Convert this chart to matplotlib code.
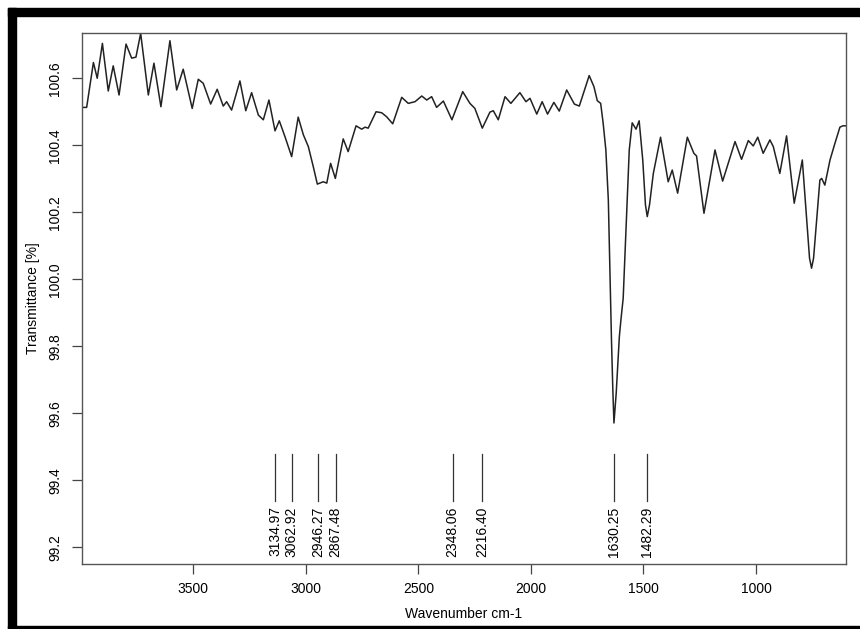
import matplotlib
matplotlib.use("Agg")
import matplotlib.pyplot as plt
from matplotlib.patches import Rectangle

plt.rcParams['font.family'] = ['Liberation Sans', 'DejaVu Sans']

# IR spectrum (wavenumber cm-1, transmittance %)
wavenumber = [
    3996, 3974, 3944, 3927, 3904, 3878, 3856, 3830, 3799, 3774, 3755, 3734,
    3700, 3675, 3644, 3604, 3574, 3545, 3505, 3478, 3456, 3423, 3394, 3367,
    3352, 3330, 3293, 3267, 3241, 3211, 3189, 3164, 3137, 3118, 3093, 3063,
    3034, 3011, 2989, 2967, 2949, 2923, 2907, 2890, 2869, 2834, 2812, 2777,
    2752, 2737, 2723, 2688, 2663, 2641, 2614, 2574, 2545, 2515, 2485, 2463,
    2441, 2419, 2389, 2351, 2303, 2271, 2249, 2216, 2182, 2167, 2145, 2115,
    2089, 2049, 2022, 2004, 1974, 1950, 1926, 1898, 1874, 1841, 1807, 1785,
    1741, 1720, 1705, 1690, 1679, 1667, 1656, 1651, 1642, 1636, 1631, 1621,
    1607, 1600, 1590, 1575, 1563, 1550, 1533, 1519, 1503, 1491, 1483, 1473,
    1456, 1424, 1390, 1372, 1348, 1305, 1276, 1264, 1231, 1182, 1148, 1093,
    1064, 1034, 1012, 992, 968, 938, 923, 894, 864, 830, 794, 762, 753, 744,
    716, 708, 694, 671, 649, 627, 614, 600,
]
transmittance = [
    100.513, 100.513, 100.647, 100.600, 100.704, 100.562, 100.637, 100.550,
    100.702, 100.660, 100.663, 100.734, 100.550, 100.645, 100.515, 100.712,
    100.565, 100.627, 100.510, 100.597, 100.585, 100.523, 100.567, 100.517,
    100.530, 100.505, 100.592, 100.503, 100.557, 100.490, 100.476, 100.535,
    100.443, 100.473, 100.426, 100.366, 100.484, 100.431, 100.396, 100.336,
    100.284, 100.291, 100.287, 100.346, 100.301, 100.419, 100.381, 100.458,
    100.448, 100.454, 100.451, 100.500, 100.497, 100.485, 100.464, 100.543,
    100.525, 100.530, 100.547, 100.535, 100.545, 100.513, 100.532, 100.476,
    100.560, 100.525, 100.510, 100.451, 100.499, 100.503, 100.476, 100.545,
    100.525, 100.557, 100.530, 100.540, 100.493, 100.530, 100.493, 100.528,
    100.502, 100.565, 100.523, 100.517, 100.608, 100.575, 100.533, 100.525,
    100.466, 100.386, 100.237, 100.087, 99.819, 99.670, 99.571, 99.660,
    99.829, 99.879, 99.943, 100.187, 100.386, 100.467, 100.448, 100.473,
    100.356, 100.222, 100.187, 100.222,
    100.316, 100.424, 100.291, 100.326, 100.257, 100.424, 100.376, 100.368,
    100.197, 100.386, 100.293, 100.411, 100.358, 100.414, 100.398, 100.424,
    100.376, 100.416, 100.396, 100.316, 100.428, 100.227, 100.356, 100.063,
    100.033, 100.063, 100.296, 100.301, 100.281, 100.356, 100.406, 100.454,
    100.458, 100.458,
]

# picked peaks
peaks = [3134.97, 3062.92, 2946.27, 2867.48, 2348.06, 2216.40, 1630.25, 1482.29]

x_ticks = [3500, 3000, 2500, 2000, 1500, 1000]
y_ticks = [99.2, 99.4, 99.6, 99.8, 100.0, 100.2, 100.4, 100.6]

fig = plt.figure(figsize=(8.6, 6.29), dpi=100)
ax = fig.add_axes([0.095, 0.1033, 0.8887, 0.8442])

ax.plot(wavenumber, transmittance, color='#222222', linewidth=1.1)

# peak markers and labels
for p in peaks:
    ax.plot([p, p], [99.338, 99.479], color='#333333', linewidth=0.9)
    ax.text(p, 99.322, f'{p:.2f}', rotation=90, ha='center', va='top',
            fontsize=10)

ax.set_xlim(3996, 600)
ax.set_ylim(99.15, 100.735)
ax.set_xticks(x_ticks)
ax.set_xticklabels([str(t) for t in x_ticks], fontsize=10)
ax.set_yticks(y_ticks)
ax.set_yticklabels([f'{t:.1f}' for t in y_ticks], fontsize=10,
                   rotation=90, va='center')
ax.tick_params(direction='out', length=7, width=0.9, color='#444444', pad=6)
ax.tick_params(axis='y', pad=7)
for s in ax.spines.values():
    s.set_color('#555555')
    s.set_linewidth(1.0)

ax.set_xlabel('Wavenumber cm-1', fontsize=10, labelpad=8)
ax.set_ylabel('Transmittance [%]', fontsize=10)
ax.yaxis.set_label_coords(-0.054, 0.5)

# black frame around the picture
W, H = 860, 629
fig.add_artist(Rectangle((8 / W, 1 - 16 / H), 852 / W, 8 / H,
                         transform=fig.transFigure, color='black'))
fig.add_artist(Rectangle((8 / W, 0), 8 / W, 1 - 8 / H,
                         transform=fig.transFigure, color='black'))
fig.add_artist(Rectangle((8 / W, 1 - 628 / H), 852 / W, 2 / H,
                         transform=fig.transFigure, color='black'))

fig.savefig('out.png', dpi=100)
